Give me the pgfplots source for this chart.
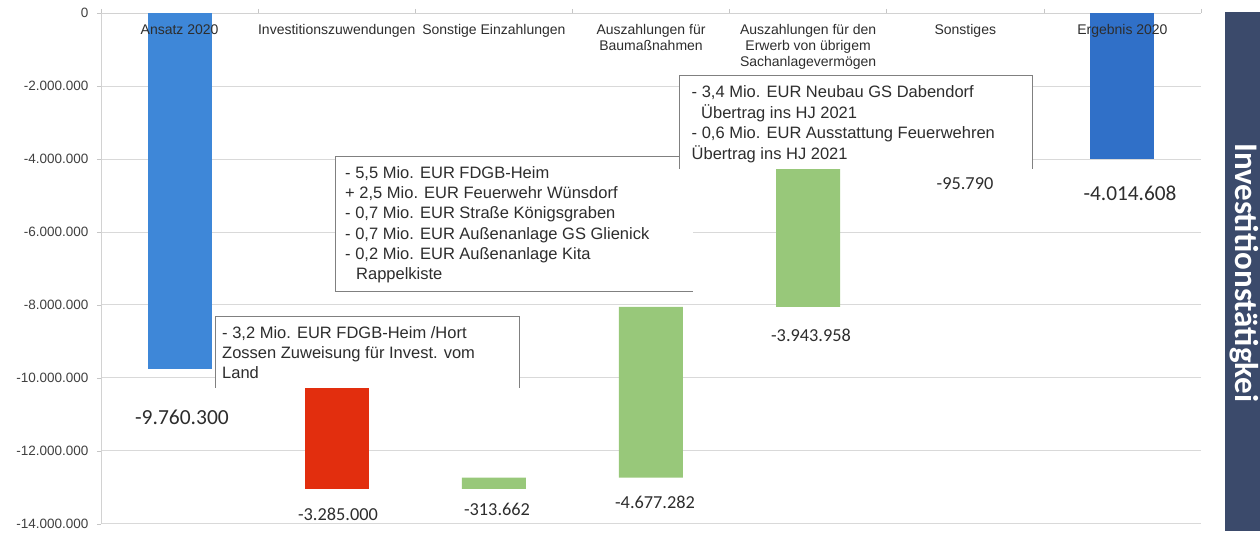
\documentclass[border=0pt]{standalone}
\usepackage{pgfplots}
\pgfplotsset{compat=1.18}
\usepackage{fontspec}
\setmainfont{Liberation Sans}
\newfontfamily\calibri{Carlito}
\definecolor{blueA}{RGB}{62,135,216}
\definecolor{blueE}{RGB}{48,112,200}
\definecolor{redI}{RGB}{226,46,14}
\definecolor{greenB}{RGB}{152,200,122}
\definecolor{boxgray}{RGB}{128,128,128}
\definecolor{sidebar}{RGB}{59,74,107}
\definecolor{txt}{RGB}{45,45,45}
\begin{document}
\begin{tikzpicture}[x=1pt,y=1pt]
\begin{axis}[
  scale only axis, width=1100pt, height=510.9pt,
  xmin=-0.5, xmax=6.5, ymin=-14000000, ymax=0,
  ybar stacked, bar width=64pt,
  ytick={-14000000,-12000000,-10000000,-8000000,-6000000,-4000000,-2000000,0},
  scaled y ticks=false,
  ymajorgrids, grid style={draw=gray!30, line width=0.7pt},
  xtick={-0.5,0.5,1.5,2.5,3.5,4.5,5.5,6.5}, xticklabels={},
  axis x line*=top, axis y line*=left,
  axis line style={draw=gray!35, line width=0.7pt, -},
  tick style={draw=gray!45, line width=0.6pt},
  tick align=outside, major tick length=4pt,
  yticklabel style={font=\fontsize{13.5}{14}\selectfont, text=black!75, xshift=-5pt},
  /pgf/number format/fixed,
  /pgf/number format/precision=0,
  /pgf/number format/1000 sep={.},
  /pgf/number format/assume math mode=true,
]
% invisible base of the waterfall
\addplot[draw=none, fill=none] coordinates {(0,0) (1,-9760300) (2,-12731638) (3,-8054356) (4,-4110398) (5,-4014608) (6,0)};
% Ansatz 2020
\addplot[draw=none, fill=blueA] coordinates {(0,-9760300) (1,0) (2,0) (3,0) (4,0) (5,0) (6,0)};
% Investitionszuwendungen
\addplot[draw=none, fill=redI] coordinates {(0,0) (1,-3285000) (2,0) (3,0) (4,0) (5,0) (6,0)};
% green steps
\addplot[draw=none, fill=greenB] coordinates {(0,0) (1,0) (2,-313662) (3,-4677282) (4,-3943958) (5,-95790) (6,0)};
% Ergebnis 2020
\addplot[draw=none, fill=blueE] coordinates {(0,0) (1,0) (2,0) (3,0) (4,0) (5,0) (6,-4014608)};
\coordinate (O) at (rel axis cs:0,0);
\end{axis}

\begin{scope}[shift={(O)}]
\begin{scope}[shift={(-101,-9.2)}]
% callout box 2 (large)
\fill[white] (335,242) rectangle (692.5,376.5);
\draw[boxgray, line width=0.8pt] (692.5,376.5) -- (335,376.5) -- (335,242) -- (692.5,242);
\begin{scope}[every node/.style={anchor=base west, inner sep=0pt, text=txt, font=\fontsize{16.5}{18}\selectfont}]
\node at (345,354) {- 5,5 Mio. EUR FDGB-Heim};
\node at (345,334) {+ 2,5 Mio. EUR Feuerwehr Wünsdorf};
\node at (345,314) {- 0,7 Mio. EUR Straße Königsgraben};
\node at (345,293.5) {- 0,7 Mio. EUR Außenanlage GS Glienick};
\node at (345,273) {- 0,2 Mio. EUR Außenanlage Kita};
\node at (356,253.5) {Rappelkiste};
\end{scope}

% callout box 1
\fill[white] (215,145) rectangle (519,217);
\draw[boxgray, line width=0.8pt] (215,145) -- (215,217) -- (519,217) -- (519,145);
\begin{scope}[every node/.style={anchor=base west, inner sep=0pt, text=txt, font=\fontsize{16.5}{18}\selectfont}]
\node at (222,194.5) {- 3,2 Mio. EUR FDGB-Heim /Hort};
\node at (222,174.5) {Zossen Zuweisung für Invest. vom};
\node at (222,155) {Land};
\end{scope}

% callout box 3
\fill[white] (679.6,364) rectangle (1032,457.5);
\draw[boxgray, line width=0.8pt] (679.6,364) -- (679.6,457.5) -- (1032,457.5) -- (1032,364);
\begin{scope}[every node/.style={anchor=base west, inner sep=0pt, text=txt, font=\fontsize{16.5}{18}\selectfont}]
\node at (691.5,435) {- 3,4 Mio. EUR Neubau GS Dabendorf};
\node at (701,414.5) {Übertrag ins HJ 2021};
\node at (691.5,394) {- 0,6 Mio. EUR Ausstattung Feuerwehren};
\node at (691.5,373.5) {Übertrag ins HJ 2021};
\end{scope}

% category labels
\begin{scope}[every node/.style={anchor=base, inner sep=0pt, text=txt, font=\fontsize{14}{15}\selectfont}]
\node at (179.6,498) {Ansatz 2020};
\node at (336.7,498) {Investitionszuwendungen};
\node at (493.9,498) {Sonstige Einzahlungen};
\node at (651.0,498) {Auszahlungen für};
\node at (651.0,482) {Baumaßnahmen};
\node at (808.1,498) {Auszahlungen für den};
\node at (808.1,482) {Erwerb von übrigem};
\node at (808.1,466) {Sachanlagevermögen};
\node at (965.3,498) {Sonstiges};
\node at (1122.4,498) {Ergebnis 2020};
\end{scope}

% value labels
\begin{scope}[every node/.style={anchor=center, inner sep=0pt, text=txt}]
\node[font=\calibri\fontsize{21.5}{22}\selectfont] at (182,116) {-9.760.300};
\node[font=\calibri\fontsize{18.3}{20}\selectfont] at (338,19) {-3.285.000};
\node[font=\calibri\fontsize{18.3}{20}\selectfont] at (497,24) {-313.662};
\node[font=\calibri\fontsize{18.3}{20}\selectfont] at (655,31) {-4.677.282};
\node[font=\calibri\fontsize{18.3}{20}\selectfont] at (811,198) {-3.943.958};
\node[font=\calibri\fontsize{18.3}{20}\selectfont] at (965,349) {-95.790};
\node[font=\calibri\fontsize{21.3}{22}\selectfont] at (1130,340) {-4.014.608};
\end{scope}

% side bar (clipped at the picture's right edge)
\begin{scope}
\clip (1225,2) rectangle (1260,521);
\fill[sidebar] (1225,2) rectangle (1260,521);
\node[rotate=-90, anchor=base west, inner sep=0pt, text=white, font=\calibri\bfseries\fontsize{33}{34}\selectfont] at (1235,390) {Investitionstätigkei};
\end{scope}
\path (0,0) rectangle (1260,533);
\end{scope}
\end{scope}
\end{tikzpicture}
\end{document}
